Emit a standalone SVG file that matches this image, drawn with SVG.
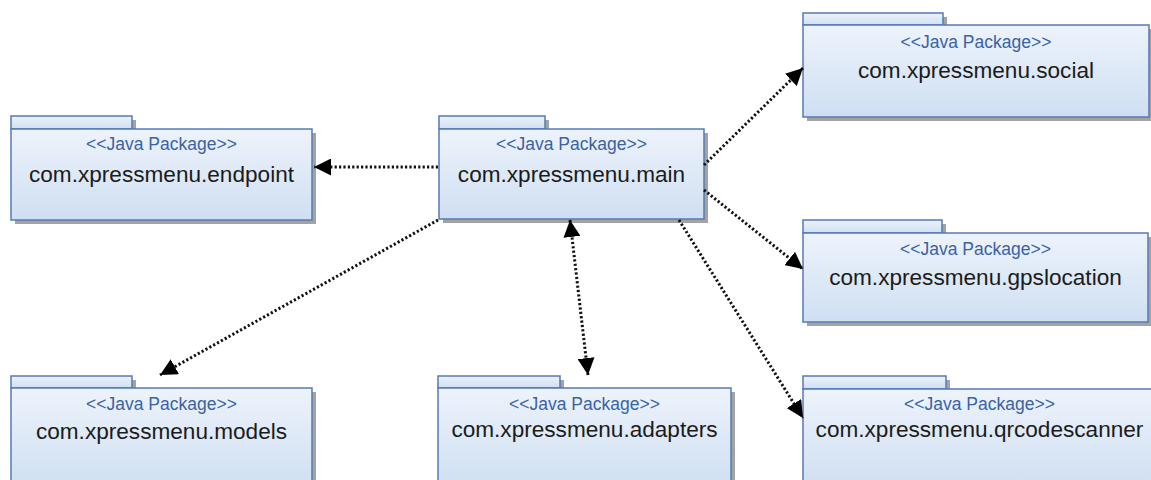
<svg xmlns="http://www.w3.org/2000/svg" width="1151" height="480" viewBox="0 0 1151 480">
  <style>
    .shadow { fill: #a3a3a3; }
    .pkg { fill: url(#pkgFill); stroke: #557bb4; stroke-width: 1.5; }
    .stereo { font-family: "Liberation Sans", Arial, sans-serif; font-size: 17.5px; fill: #3a62a7; text-anchor: middle; }
    .name { font-family: "Liberation Sans", Arial, sans-serif; font-size: 22.6px; fill: #1b1b1b; text-anchor: middle; }
    .dep { fill: none; stroke: #111; stroke-width: 3; stroke-dasharray: 2.2 2.2; }
  </style>
  <defs>
    <linearGradient id="pkgFill" x1="0" y1="0" x2="0" y2="1">
      <stop offset="0" stop-color="#edf3fb"/>
      <stop offset="1" stop-color="#cfdff2"/>
    </linearGradient>
    <marker id="arrow" viewBox="0 0 17 17" refX="17" refY="8.5" markerWidth="17" markerHeight="17" markerUnits="userSpaceOnUse" orient="auto-start-reverse">
      <path d="M0,0 L17,8.5 L0,17 Z" fill="#000"/>
    </marker>
  </defs>

  <rect width="1151" height="480" fill="#ffffff"/>

  <!-- package: endpoint -->
  <g id="pkg-endpoint">
    <rect class="shadow" x="15" y="120" width="121" height="13"/>
    <rect class="shadow" x="15" y="133" width="301" height="91"/>
    <rect class="pkg" x="11" y="116" width="121" height="13"/>
    <rect class="pkg" x="11" y="129" width="301" height="91"/>
    <text class="stereo" x="161.5" y="149.5">&lt;&lt;Java Package&gt;&gt;</text>
    <text class="name" x="161.5" y="182">com.xpressmenu.endpoint</text>
  </g>

  <!-- package: main -->
  <g id="pkg-main">
    <rect class="shadow" x="443" y="120" width="106" height="13"/>
    <rect class="shadow" x="443" y="133" width="265" height="90"/>
    <rect class="pkg" x="439" y="116" width="106" height="13"/>
    <rect class="pkg" x="439" y="129" width="265" height="90"/>
    <text class="stereo" x="571.5" y="149.5">&lt;&lt;Java Package&gt;&gt;</text>
    <text class="name" x="571.5" y="182">com.xpressmenu.main</text>
  </g>

  <!-- package: social -->
  <g id="pkg-social">
    <rect class="shadow" x="807" y="17" width="140" height="12"/>
    <rect class="shadow" x="807" y="29" width="346" height="92"/>
    <rect class="pkg" x="803" y="13" width="140" height="12"/>
    <rect class="pkg" x="803" y="25" width="346" height="92"/>
    <text class="stereo" x="976" y="48">&lt;&lt;Java Package&gt;&gt;</text>
    <text class="name" x="976" y="77.5">com.xpressmenu.social</text>
  </g>

  <!-- package: gpslocation -->
  <g id="pkg-gpslocation">
    <rect class="shadow" x="807" y="224" width="139" height="13"/>
    <rect class="shadow" x="807" y="237" width="345" height="89"/>
    <rect class="pkg" x="803" y="220" width="139" height="13"/>
    <rect class="pkg" x="803" y="233" width="345" height="89"/>
    <text class="stereo" x="975.5" y="255">&lt;&lt;Java Package&gt;&gt;</text>
    <text class="name" x="975.5" y="284.5">com.xpressmenu.gpslocation</text>
  </g>

  <!-- package: qrcodescanner -->
  <g id="pkg-qrcodescanner">
    <rect class="shadow" x="807" y="380" width="143" height="13"/>
    <rect class="shadow" x="807" y="393" width="353" height="100"/>
    <rect class="pkg" x="803" y="376" width="143" height="13"/>
    <rect class="pkg" x="803" y="389" width="353" height="100"/>
    <text class="stereo" x="979.5" y="409.5">&lt;&lt;Java Package&gt;&gt;</text>
    <text class="name" x="979.5" y="437">com.xpressmenu.qrcodescanner</text>
  </g>

  <!-- package: models -->
  <g id="pkg-models">
    <rect class="shadow" x="15" y="380" width="121" height="12"/>
    <rect class="shadow" x="15" y="392" width="301" height="100"/>
    <rect class="pkg" x="11" y="376" width="121" height="12"/>
    <rect class="pkg" x="11" y="388" width="301" height="100"/>
    <text class="stereo" x="161.5" y="410">&lt;&lt;Java Package&gt;&gt;</text>
    <text class="name" x="161.5" y="439">com.xpressmenu.models</text>
  </g>

  <!-- package: adapters -->
  <g id="pkg-adapters">
    <rect class="shadow" x="442" y="380" width="122" height="12"/>
    <rect class="shadow" x="442" y="392" width="293" height="100"/>
    <rect class="pkg" x="438" y="376" width="122" height="12"/>
    <rect class="pkg" x="438" y="388" width="293" height="100"/>
    <text class="stereo" x="584.5" y="409.5">&lt;&lt;Java Package&gt;&gt;</text>
    <text class="name" x="584.5" y="437">com.xpressmenu.adapters</text>
  </g>

  <!-- dependencies -->
  <g id="connectors">
    <line class="dep" x1="438" y1="167" x2="314" y2="167" marker-end="url(#arrow)"/>
    <line class="dep" x1="704" y1="165" x2="803" y2="68" marker-end="url(#arrow)"/>
    <line class="dep" x1="704" y1="190" x2="803" y2="269" marker-end="url(#arrow)"/>
    <line class="dep" x1="679" y1="220" x2="803" y2="418" marker-end="url(#arrow)"/>
    <line class="dep" x1="438" y1="220" x2="160" y2="375" marker-end="url(#arrow)"/>
    <line class="dep" x1="570" y1="220" x2="588" y2="375" marker-start="url(#arrow)" marker-end="url(#arrow)"/>
  </g>
</svg>
